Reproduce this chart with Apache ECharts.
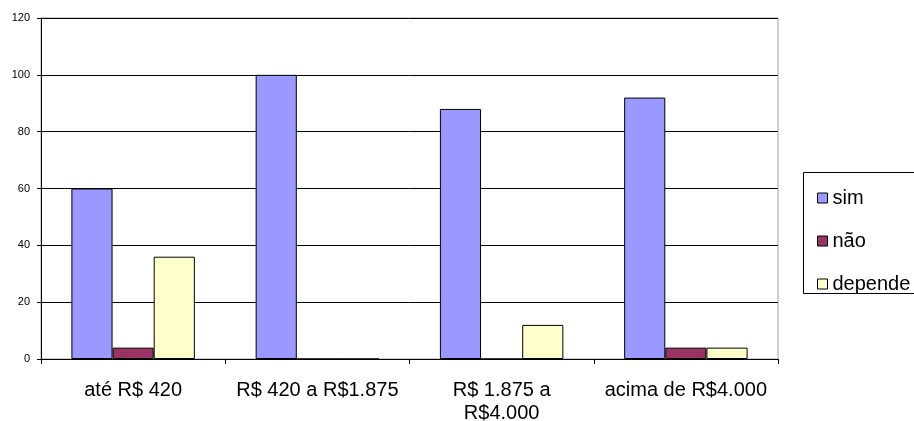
<!DOCTYPE html>
<html>
<head>
<meta charset="utf-8">
<script src="https://cdn.jsdelivr.net/npm/echarts@6/dist/echarts.min.js"></script>
<style>
  html, body { margin: 0; padding: 0; background: #fff; }
  #chart { width: 914px; height: 421px; }
</style>
</head>
<body>
<div id="chart"></div>
<script>
// Faixas de renda (eixo X)
var categories = ['até R$ 420', 'R$ 420 a R$1.875', 'R$ 1.875 a\nR$4.000', 'acima de R$4.000'];
// Respostas por faixa
var simValues = [60, 100, 88, 92];
var naoValues = [4, 0, 0, 4];
var dependeValues = [36, 0, 12, 4];
var seriesNames = ['sim', 'não', 'depende'];
var yTicks = { min: 0, max: 120, interval: 20 };

var font = 'Liberation Sans, Arial, sans-serif';
var colors = ['#9999FF', '#993366', '#FFFFCC'];

function barSeries(name, data, color) {
  return {
    name: name,
    type: 'bar',
    data: data,
    barGap: 0,
    barCategoryGap: '33%',
    itemStyle: { color: color, borderColor: '#000', borderWidth: 1 },
    emphasis: { disabled: true },
    animation: false
  };
}

var chart = echarts.init(document.getElementById('chart'), null, { renderer: 'canvas' });
chart.setOption({
  animation: false,
  grid: {
    left: 41, top: 18, width: 737, height: 341,
    containLabel: false,
    outerBoundsMode: 'none',
    show: true, borderColor: '#a0a0a0', borderWidth: 1, backgroundColor: 'transparent'
  },
  // legend frame, running off the right edge of the canvas
  graphic: [{
    type: 'rect',
    shape: { x: 803.5, y: 172.5, width: 140, height: 121 },
    style: { fill: 'none', stroke: '#000', lineWidth: 1 },
    silent: true,
    z: 0
  }],
  legend: {
    orient: 'vertical',
    left: 817, top: 188,
    padding: 0,
    itemWidth: 10, itemHeight: 10, itemGap: 23,
    icon: 'rect',
    itemStyle: { borderColor: '#000', borderWidth: 1 },
    textStyle: { fontFamily: font, fontSize: 20, color: '#000', lineHeight: 20, padding: [0, 0, 0, 0] },
    data: seriesNames
  },
  xAxis: {
    type: 'category',
    data: categories,
    axisLine: { lineStyle: { color: '#000', width: 1 } },
    axisTick: { show: true, length: 5, inside: false, alignWithLabel: false, lineStyle: { color: '#000' } },
    axisLabel: { color: '#000', fontFamily: font, fontSize: 20, lineHeight: 23, margin: 20, interval: 0 },
    splitLine: { show: false }
  },
  yAxis: {
    type: 'value',
    min: yTicks.min, max: yTicks.max, interval: yTicks.interval,
    axisLine: { show: true, lineStyle: { color: '#000', width: 1 } },
    axisTick: { show: true, length: 4, lineStyle: { color: '#000' } },
    axisLabel: { color: '#000', fontFamily: font, fontSize: 11, margin: 11 },
    splitLine: { show: true, lineStyle: { color: '#000', width: 1 } }
  },
  series: [
    barSeries(seriesNames[0], simValues, colors[0]),
    barSeries(seriesNames[1], naoValues, colors[1]),
    barSeries(seriesNames[2], dependeValues, colors[2])
  ]
});
</script>
</body>
</html>
